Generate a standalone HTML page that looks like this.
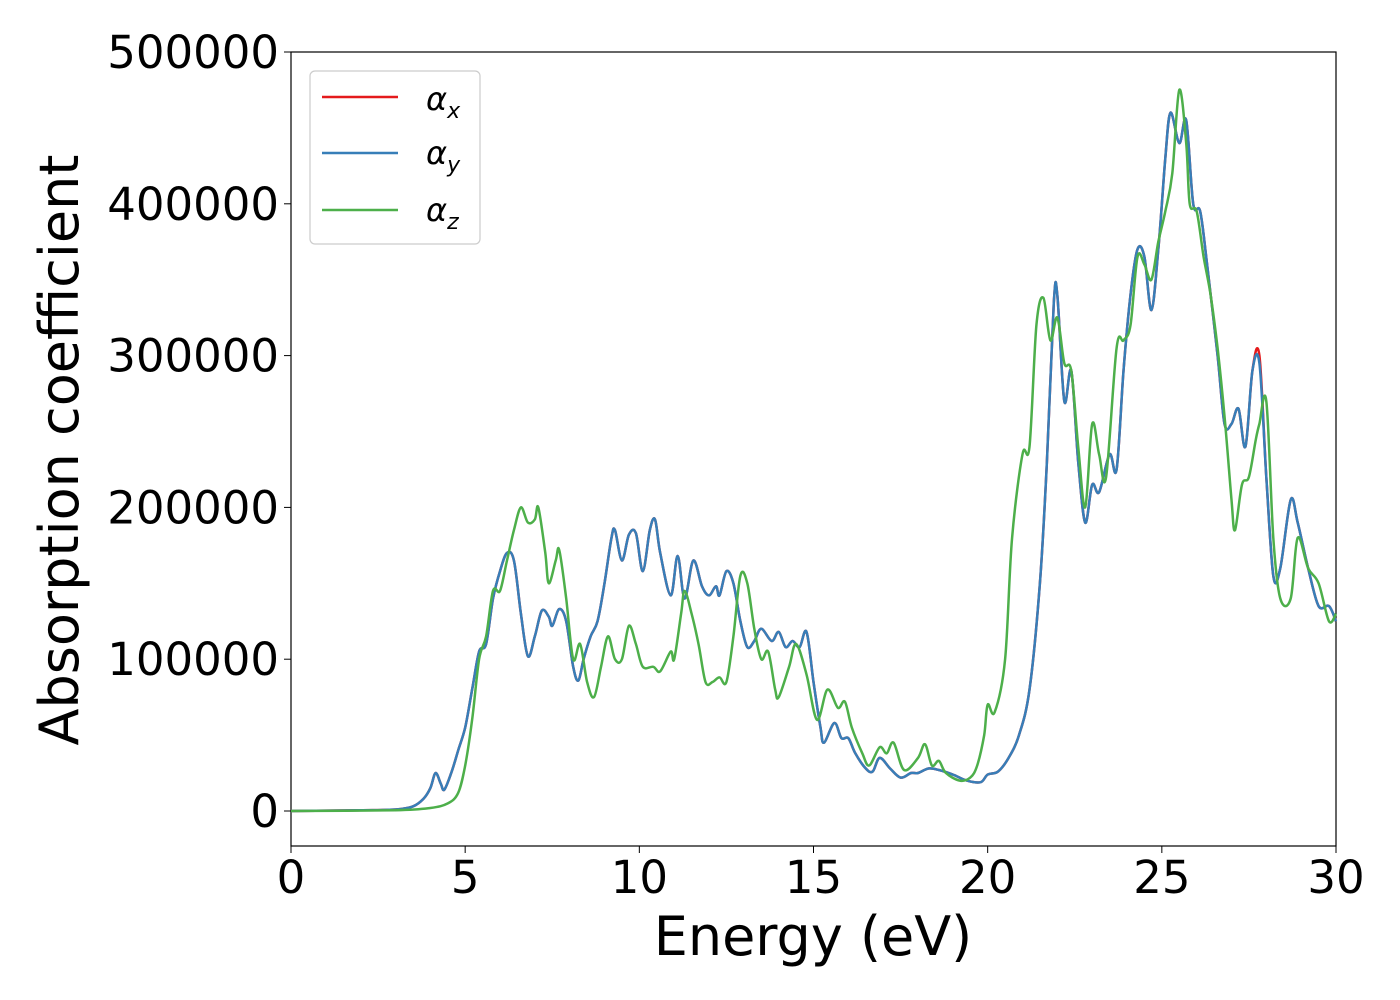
<!DOCTYPE html>
<html><head><meta charset="utf-8"><style>
body{margin:0;background:#fff;}
svg{display:block;font-family:"DejaVu Sans","Liberation Sans",sans-serif;}
</style></head><body>
<svg id="chart" width="1400" height="1000">
<rect x="291" y="52" width="1045" height="794" fill="none" stroke="#000" stroke-width="1.2"/>
<g id="ticks"></g>
<g id="series"></g>
<text x="813" y="955" font-size="54" text-anchor="middle">Energy (eV)</text>
<text transform="translate(78,450) rotate(-90)" font-size="54" text-anchor="middle">Absorption coefficient</text>
<g>
<rect x="310" y="71" width="170" height="173" rx="5" fill="#fff" stroke="#ccc" stroke-width="1.2"/>
<g><line x1="322" y1="97" x2="398" y2="97" stroke="#e41a1c" stroke-width="2.5"/><text x="426" y="110" font-size="32" font-style="italic">α<tspan font-size="22" dy="8">x</tspan></text></g>
<g><line x1="322" y1="153" x2="398" y2="153" stroke="#377eb8" stroke-width="2.5"/><text x="426" y="164" font-size="32" font-style="italic">α<tspan font-size="22" dy="8">y</tspan></text></g>
<g><line x1="322" y1="210" x2="398" y2="210" stroke="#4daf4a" stroke-width="2.5"/><text x="426" y="221" font-size="32" font-style="italic">α<tspan font-size="22" dy="8">z</tspan></text></g>
</g>
</svg>
<script>
const xTicks=[0,5,10,15,20,25,30];
const yTicks=[0,100000,200000,300000,400000,500000];
const energyXY=[0,2,3,3.5,3.8,4.0,4.15,4.3,4.4,4.6,4.8,5.0,5.2,5.4,5.6,5.8,6.0,6.2,6.4,6.6,6.8,7.0,7.2,7.4,7.5,7.7,7.9,8.1,8.25,8.4,8.6,8.8,9.0,9.2,9.3,9.5,9.7,9.9,10.1,10.3,10.45,10.6,10.9,11.1,11.3,11.55,11.8,12.0,12.2,12.3,12.5,12.7,12.9,13.1,13.3,13.5,13.8,14.0,14.2,14.4,14.6,14.8,15.0,15.2,15.3,15.6,15.8,16.0,16.2,16.5,16.7,16.9,17.2,17.5,17.8,18.0,18.3,18.6,19.0,19.4,19.8,20.0,20.3,20.6,20.9,21.2,21.5,21.7,21.9,22.0,22.2,22.4,22.6,22.8,23.0,23.2,23.5,23.7,23.9,24.1,24.3,24.5,24.7,24.9,25.1,25.25,25.5,25.7,25.9,26.1,26.3,26.6,26.8,27.0,27.2,27.4,27.6,27.8,28.0,28.2,28.4,28.7,28.9,29.2,29.5,29.8,30];
const alphaY=[0,0.5,1,3,8,15,25,18,14,25,40,55,80,105,110,140,158,170,165,130,102,115,132,128,122,133,125,95,86,100,115,125,150,180,185,165,182,183,158,185,192,170,142,168,140,165,148,142,148,142,158,150,125,108,112,120,112,118,108,112,108,118,85,55,45,58,48,48,38,28,26,35,28,22,25,25,28,27,24,20,19,24,26,35,50,80,150,230,335,340,270,290,230,190,215,210,235,225,290,340,370,365,330,370,430,460,440,455,400,395,360,300,255,255,265,240,290,295,220,155,160,205,190,160,135,135,125];
const alphaX=alphaY.map((v,i)=>energyXY[i]===27.8?300:v);
const energyZ=[0,3,4,4.5,4.8,5.0,5.2,5.4,5.6,5.8,6.0,6.2,6.4,6.6,6.8,7.0,7.1,7.3,7.4,7.6,7.7,7.9,8.1,8.3,8.5,8.7,8.9,9.1,9.3,9.5,9.7,9.9,10.1,10.4,10.6,10.9,11.0,11.2,11.3,11.5,11.7,11.9,12.1,12.3,12.5,12.7,12.9,13.1,13.3,13.5,13.7,13.9,14.0,14.3,14.5,14.8,15.1,15.4,15.7,15.9,16.1,16.4,16.6,16.9,17.1,17.3,17.6,18.0,18.2,18.4,18.6,18.8,19.2,19.5,19.7,19.9,20.0,20.2,20.5,20.7,21.0,21.2,21.4,21.6,21.8,22.0,22.2,22.4,22.6,22.8,23.0,23.2,23.4,23.7,23.9,24.1,24.3,24.5,24.7,24.9,25.1,25.3,25.5,25.7,25.8,26.0,26.2,26.4,26.6,26.8,27.0,27.1,27.3,27.5,27.7,27.8,28.0,28.2,28.4,28.7,28.9,29.2,29.5,29.8,30];
const alphaZ=[0,0.5,2,5,12,30,60,100,115,145,145,165,185,200,190,192,200,170,150,165,172,140,100,110,85,75,95,115,100,100,122,110,95,95,92,105,100,130,145,130,110,85,85,88,85,115,155,150,120,100,105,80,75,95,110,90,60,80,68,72,55,38,30,42,38,45,27,35,44,30,33,25,20,22,30,50,70,65,100,180,235,240,320,338,310,325,295,290,240,200,255,235,220,305,310,320,365,360,350,375,395,420,475,440,400,395,365,340,305,260,205,185,215,220,245,255,270,180,140,140,180,160,150,125,130];
const X=e=>291+e*(1045/30);
const Y=v=>811-v*(759/500000);
const NS="http://www.w3.org/2000/svg";
const tg=document.getElementById('ticks');
xTicks.forEach(t=>{
 const l=document.createElementNS(NS,'line');
 l.setAttribute('x1',X(t));l.setAttribute('x2',X(t));l.setAttribute('y1',846);l.setAttribute('y2',853);l.setAttribute('stroke','#000');
 
 
 tg.appendChild(l);
 const s=document.createElementNS(NS,'text');
 s.setAttribute('x',X(t));s.setAttribute('y',893);s.setAttribute('font-size','45');s.setAttribute('text-anchor','middle');
 s.textContent=t;
 
 
 tg.appendChild(s);
});
yTicks.forEach(t=>{
 const l=document.createElementNS(NS,'line');
 l.setAttribute('x1',284);l.setAttribute('x2',291);l.setAttribute('y1',Y(t));l.setAttribute('y2',Y(t));l.setAttribute('stroke','#000');
 
 
 tg.appendChild(l);
 const s=document.createElementNS(NS,'text');
 s.setAttribute('x',279);s.setAttribute('y',Y(t)+16);s.setAttribute('font-size','45');s.setAttribute('text-anchor','end');
 s.textContent=t;
 
 
 tg.appendChild(s);
});
const sg=document.getElementById('series');
function draw(xs,vs,color,name){
 const pts=xs.map((e,i)=>[X(e),Y(vs[i]*1000)]);
 let d='M'+pts[0][0].toFixed(1)+','+pts[0][1].toFixed(1);
 for(let i=0;i<pts.length-1;i++){
  const p0=pts[Math.max(0,i-1)],p1=pts[i],p2=pts[i+1],p3=pts[Math.min(pts.length-1,i+2)];
  const c1=[p1[0]+(p2[0]-p0[0])/6,p1[1]+(p2[1]-p0[1])/6];
  const c2=[p2[0]-(p3[0]-p1[0])/6,p2[1]-(p3[1]-p1[1])/6];
  d+=' C'+c1[0].toFixed(1)+','+c1[1].toFixed(1)+' '+c2[0].toFixed(1)+','+c2[1].toFixed(1)+' '+p2[0].toFixed(1)+','+p2[1].toFixed(1);
 }
 const p=document.createElementNS(NS,'path');
 p.setAttribute('d',d);
 p.setAttribute('fill','none');p.setAttribute('stroke',color);p.setAttribute('stroke-width','2.5');p.setAttribute('stroke-linejoin','round');
 
 
 sg.appendChild(p);
}
draw(energyXY,alphaX,'#e41a1c','alpha-x-line');
draw(energyXY,alphaY,'#377eb8','alpha-y-line');
draw(energyZ,alphaZ,'#4daf4a','alpha-z-line');
</script>
</body></html>
